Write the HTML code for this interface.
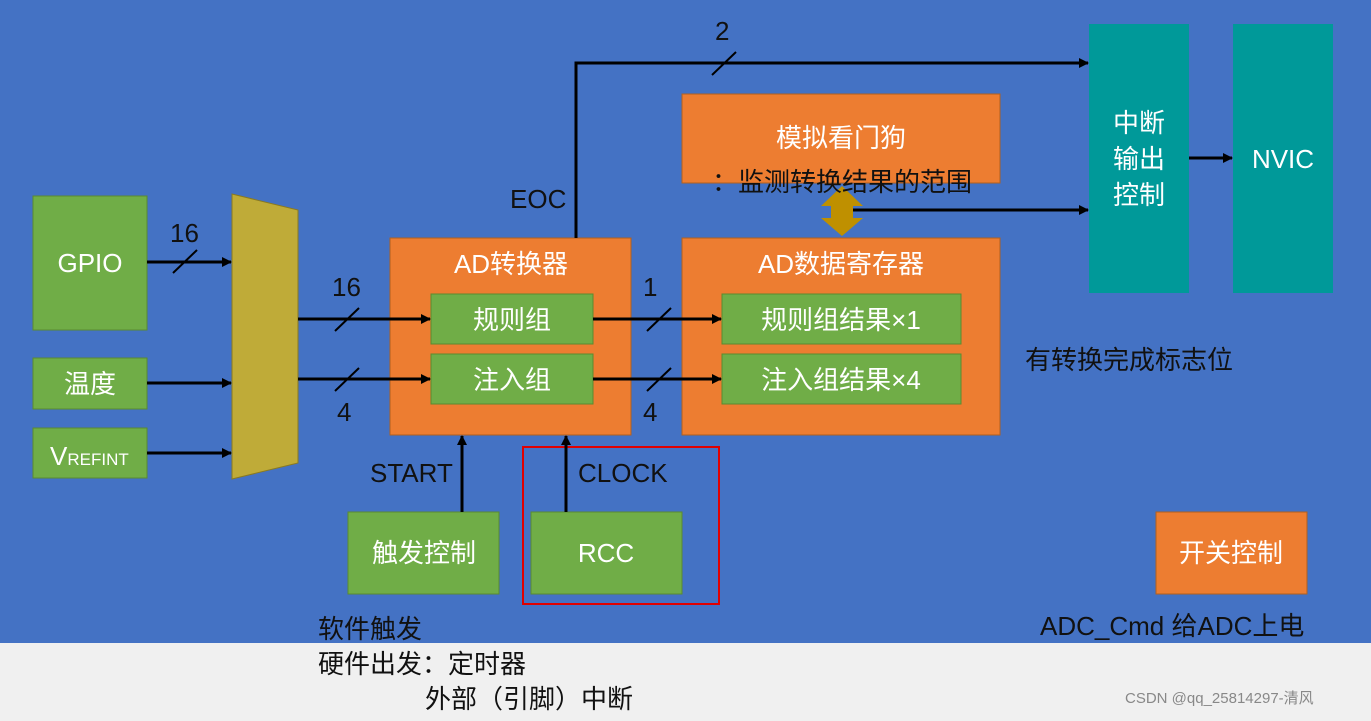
<!DOCTYPE html>
<html><head><meta charset="utf-8"><style>
body{margin:0;width:1371px;height:716px;overflow:hidden;background:#f0f0f0}
text{font-family:"Liberation Sans","Noto Sans CJK SC",sans-serif}
</style></head><body>
<svg width="1371" height="716" viewBox="0 0 1371 716" xmlns="http://www.w3.org/2000/svg">
<defs><marker id="a" markerWidth="10" markerHeight="10" refX="9" refY="5" orient="auto" markerUnits="userSpaceOnUse"><path d="M0,0 L10,5 L0,10 z" fill="#000"/></marker></defs>
<rect x="0" y="0" width="1371" height="643" fill="#4472C4"/>
<rect x="0" y="643" width="1371" height="73" fill="#f0f0f0"/>
<g stroke="#5a8a30" stroke-width="1" fill="#70AD47">
<rect x="33" y="196" width="114" height="134"/>
<rect x="33" y="358" width="114" height="51"/>
<rect x="33" y="428" width="114" height="50"/>
</g>
<polygon points="232,194 298,210 298,463 232,479" fill="#BFAB38" stroke="#8a7a20"/>
<rect x="390" y="238" width="241" height="197" fill="#ED7D31" stroke="#b06020"/>
<rect x="682" y="238" width="318" height="197" fill="#ED7D31" stroke="#b06020"/>
<rect x="682" y="94" width="318" height="89" fill="#ED7D31" stroke="#b06020"/>
<g fill="#70AD47" stroke="#5a8a30">
<rect x="431" y="294" width="162" height="50"/><rect x="431" y="354" width="162" height="50"/>
<rect x="722" y="294" width="239" height="50"/><rect x="722" y="354" width="239" height="50"/>
<rect x="348" y="512" width="151" height="82"/><rect x="531" y="512" width="151" height="82"/>
</g>
<rect x="1156" y="512" width="151" height="82" fill="#ED7D31" stroke="#b06020"/>
<rect x="1089" y="24" width="100" height="269" fill="#009999"/>
<rect x="1233" y="24" width="100" height="269" fill="#009999"/>
<rect x="523" y="447" width="196" height="157" fill="none" stroke="#e00000" stroke-width="2"/>
<g stroke="#000" stroke-width="3" fill="none">
<line x1="147" y1="262" x2="231" y2="262" marker-end="url(#a)"/>
<line x1="147" y1="383" x2="231" y2="383" marker-end="url(#a)"/>
<line x1="147" y1="453" x2="231" y2="453" marker-end="url(#a)"/>
<line x1="298" y1="319" x2="430" y2="319" marker-end="url(#a)"/>
<line x1="298" y1="379" x2="430" y2="379" marker-end="url(#a)"/>
<line x1="593" y1="319" x2="721" y2="319" marker-end="url(#a)"/>
<line x1="593" y1="379" x2="721" y2="379" marker-end="url(#a)"/>
<polyline points="576,238 576,63 1088,63" marker-end="url(#a)"/>
<line x1="853" y1="210" x2="1088" y2="210" marker-end="url(#a)"/>
<line x1="1189" y1="158" x2="1232" y2="158" marker-end="url(#a)"/>
<line x1="462" y1="512" x2="462" y2="436" marker-end="url(#a)"/>
<line x1="566" y1="512" x2="566" y2="436" marker-end="url(#a)"/>
</g>
<g stroke="#000" stroke-width="2">
<line x1="173" y1="273" x2="197" y2="250"/>
<line x1="335" y1="331" x2="359" y2="308"/>
<line x1="335" y1="391" x2="359" y2="368"/>
<line x1="647" y1="331" x2="671" y2="308"/>
<line x1="647" y1="391" x2="671" y2="368"/>
<line x1="712" y1="75" x2="736" y2="52"/>
</g>
<polygon points="842,186 863,206 853,206 853,218 863,218 842,236 821,218 831,218 831,206 821,206" fill="#BF9000"/>
<g font-size="26" fill="#fff" text-anchor="middle">
<text x="90" y="272">GPIO</text>
<text x="90" y="393">温度</text>
<text x="511" y="273">AD转换器</text>
<text x="841" y="273">AD数据寄存器</text>
<text x="841" y="147">模拟看门狗</text>
<text x="512" y="329">规则组</text>
<text x="512" y="389">注入组</text>
<text x="841" y="329">规则组结果×1</text>
<text x="841" y="389">注入组结果×4</text>
<text x="424" y="562">触发控制</text>
<text x="606" y="562">RCC</text>
<text x="1231" y="562">开关控制</text>
<text x="1139" y="132">中断</text>
<text x="1139" y="168">输出</text>
<text x="1139" y="204">控制</text>
<text x="1283" y="168">NVIC</text>
</g>
<text x="50" y="465" font-size="26" fill="#fff">V<tspan font-size="17">REFINT</tspan></text>
<g font-size="26" fill="#111">
<text x="170" y="242">16</text>
<text x="332" y="296">16</text>
<text x="337" y="421">4</text>
<text x="643" y="296">1</text>
<text x="643" y="421">4</text>
<text x="715" y="40">2</text>
<text x="510" y="208">EOC</text>
<text x="370" y="482">START</text>
<text x="578" y="482">CLOCK</text>
<text x="712" y="191">：监测转换结果的范围</text>
<text x="1025" y="369">有转换完成标志位</text>
<text x="1040" y="635">ADC_Cmd 给ADC上电</text>
<text x="318" y="638">软件触发</text>
<text x="318" y="673">硬件出发：定时器</text>
<text x="425" y="708">外部（引脚）中断</text>
</g>
<text x="1125" y="703" font-size="15" fill="#888">CSDN @qq_25814297-清风</text>
</svg>
</body></html>
